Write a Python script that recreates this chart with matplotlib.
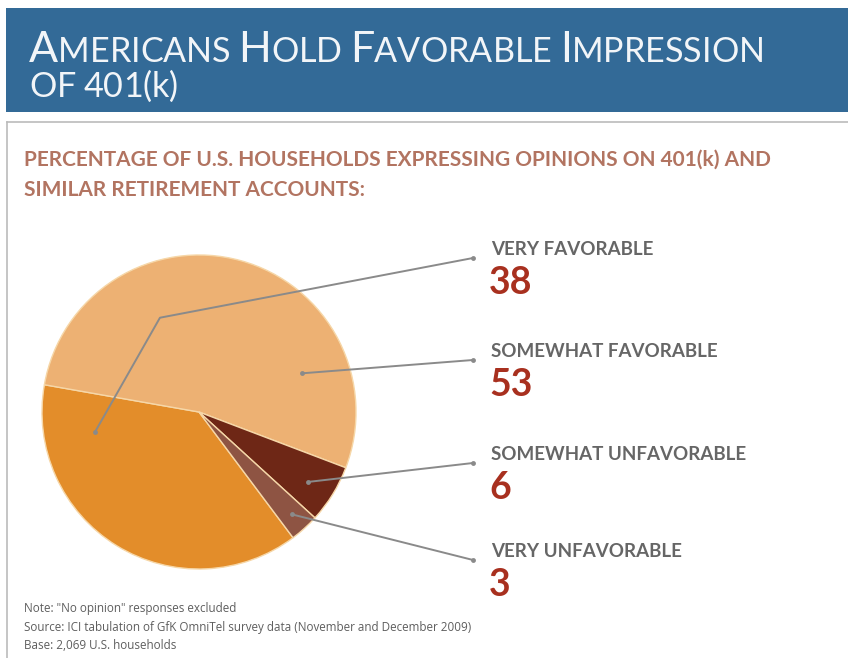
import matplotlib
matplotlib.use('Agg')
import matplotlib.pyplot as plt
from matplotlib.patches import Rectangle
import numpy as np

# ---- data ----
categories = ['VERY FAVORABLE', 'SOMEWHAT FAVORABLE', 'SOMEWHAT UNFAVORABLE', 'VERY UNFAVORABLE']
values = [38, 53, 6, 3]
colors = ['#E38D2A', '#EDB173', '#6E2716', '#8E5443']
title_lines = ['Americans Hold Favorable Impression', 'of 401(k)']
subtitle_lines = ['PERCENTAGE OF U.S. HOUSEHOLDS EXPRESSING OPINIONS ON 401(k) AND',
                  'SIMILAR RETIREMENT ACCOUNTS:']
notes = ['Note: "No opinion" responses excluded',
         'Source: ICI tabulation of GfK OmniTel survey data (November and December 2009)',
         'Base: 2,069 U.S. households']

W, H = 848, 658
fig = plt.figure(figsize=(W / 100, H / 100), dpi=100)
fig.patch.set_facecolor('white')

# pie axes (center 199,412 ; radius 157 px)
cx, cy, r = 199, 412, 157
pax = fig.add_axes([(cx - r) / W, (H - cy - r) / H, 2 * r / W, 2 * r / H])
pax.set_zorder(1)
wedges, _ = pax.pie(values, colors=colors, startangle=306.8, counterclock=False,
                    wedgeprops=dict(edgecolor='#F6D7A8', linewidth=1.0))
pax.set_xlim(-1, 1)
pax.set_ylim(-1, 1)
pax.set_aspect('equal')
pax.axis('off')

# overlay axes in pixel coords
ov = fig.add_axes([0, 0, 1, 1])
ov.set_zorder(2)
ov.patch.set_alpha(0)
ov.set_xlim(0, W)
ov.set_ylim(H, 0)
ov.axis('off')

# header band
ov.add_patch(Rectangle((6, 8), W - 6, 104, facecolor='#336A97', edgecolor='none'))
# panel border
ov.plot([7, W], [122, 122], color='#BBBBBB', lw=1.2)
ov.plot([7, 7], [122, H], color='#BBBBBB', lw=1.2)

fig.canvas.draw()
renderer = fig.canvas.get_renderer()


def small_caps(x, y, text, big, small, color, family, weight='normal'):
    words = text.split(' ')
    for wi, word in enumerate(words):
        for ci, ch in enumerate(word):
            size = big if (ci == 0 and ch.isalpha() and ch.isupper()) else small
            c = ch if ch == 'k' else ch.upper()
            t = ov.text(x, y, c, fontsize=size, color=color, family=family,
                        weight=weight, va='baseline', ha='left')
            x += t.get_window_extent(renderer).width
        if wi < len(words) - 1:
            t = ov.text(x, y, ' ', fontsize=small, family=family)
            x += t.get_window_extent(renderer).width * 0.9
    return x


small_caps(29, 62, title_lines[0], 31, 24.6, '#F2F5F8', 'Lato')
small_caps(29, 97, title_lines[1], 31, 24.6, '#F2F5F8', 'Lato')


def fit_text(x, y, s, target_w, base_size, **kw):
    t = ov.text(x, y, s, fontsize=base_size, va='baseline', ha='left', **kw)
    w = t.get_window_extent(renderer).width
    t.set_fontsize(base_size * target_w / w)
    return t


# subtitle
sub0 = fit_text(24, 166, subtitle_lines[0], 748, 12, color='#B27461', family='Lato', weight='bold')
ov.text(24, 196, subtitle_lines[1], fontsize=sub0.get_fontsize(), color='#B27461', family='Lato',
        weight='bold', va='baseline', ha='left')

# leader lines + labels
anchor_frac = [0.153, 0.217, 0.45, 0.5]
anchor_rad = [0.675, 0.70, 0.825, 0.88]
dot_y = [258, 360, 463, 560]
dot_x = 473


def to_px(xd, yd):
    dx, dy = pax.transData.transform((xd, yd))
    return dx, H - dy


for i, w in enumerate(wedges):
    ang = np.deg2rad(w.theta1 + anchor_frac[i] * (w.theta2 - w.theta1))
    ax_, ay_ = to_px(anchor_rad[i] * np.cos(ang), anchor_rad[i] * np.sin(ang))
    xs = [ax_]
    ys = [ay_]
    if i == 0:
        bang = np.deg2rad(112.5)
        bx, by = to_px(0.65 * np.cos(bang), 0.65 * np.sin(bang))
        xs.append(bx)
        ys.append(by)
    xs.append(dot_x)
    ys.append(dot_y[i])
    ov.plot(xs, ys, color='#8A8A8A', lw=1.4, solid_capstyle='round')
    ov.plot([xs[0], xs[-1]], [ys[0], ys[-1]], ls='none', marker='o', ms=3.5,
            color='#8A8A8A', markeredgewidth=0)
    ov.text(491, dot_y[i] - 3, categories[i], fontsize=13.5, color='#666666', family='Lato',
            weight='bold', va='baseline', ha='left')
    ov.text(489, dot_y[i] + 36, str(values[i]), fontsize=27, color='#A8301F', family='Lato',
            weight='bold', va='baseline', ha='left')

for i, n in enumerate(notes):
    t = ov.text(24, 612 + 18.5 * i, n, fontsize=8.4, color='#5E5E5E', family='Open Sans',
                va='baseline', ha='left')

fig.savefig('out.png', dpi=100, facecolor='white')
